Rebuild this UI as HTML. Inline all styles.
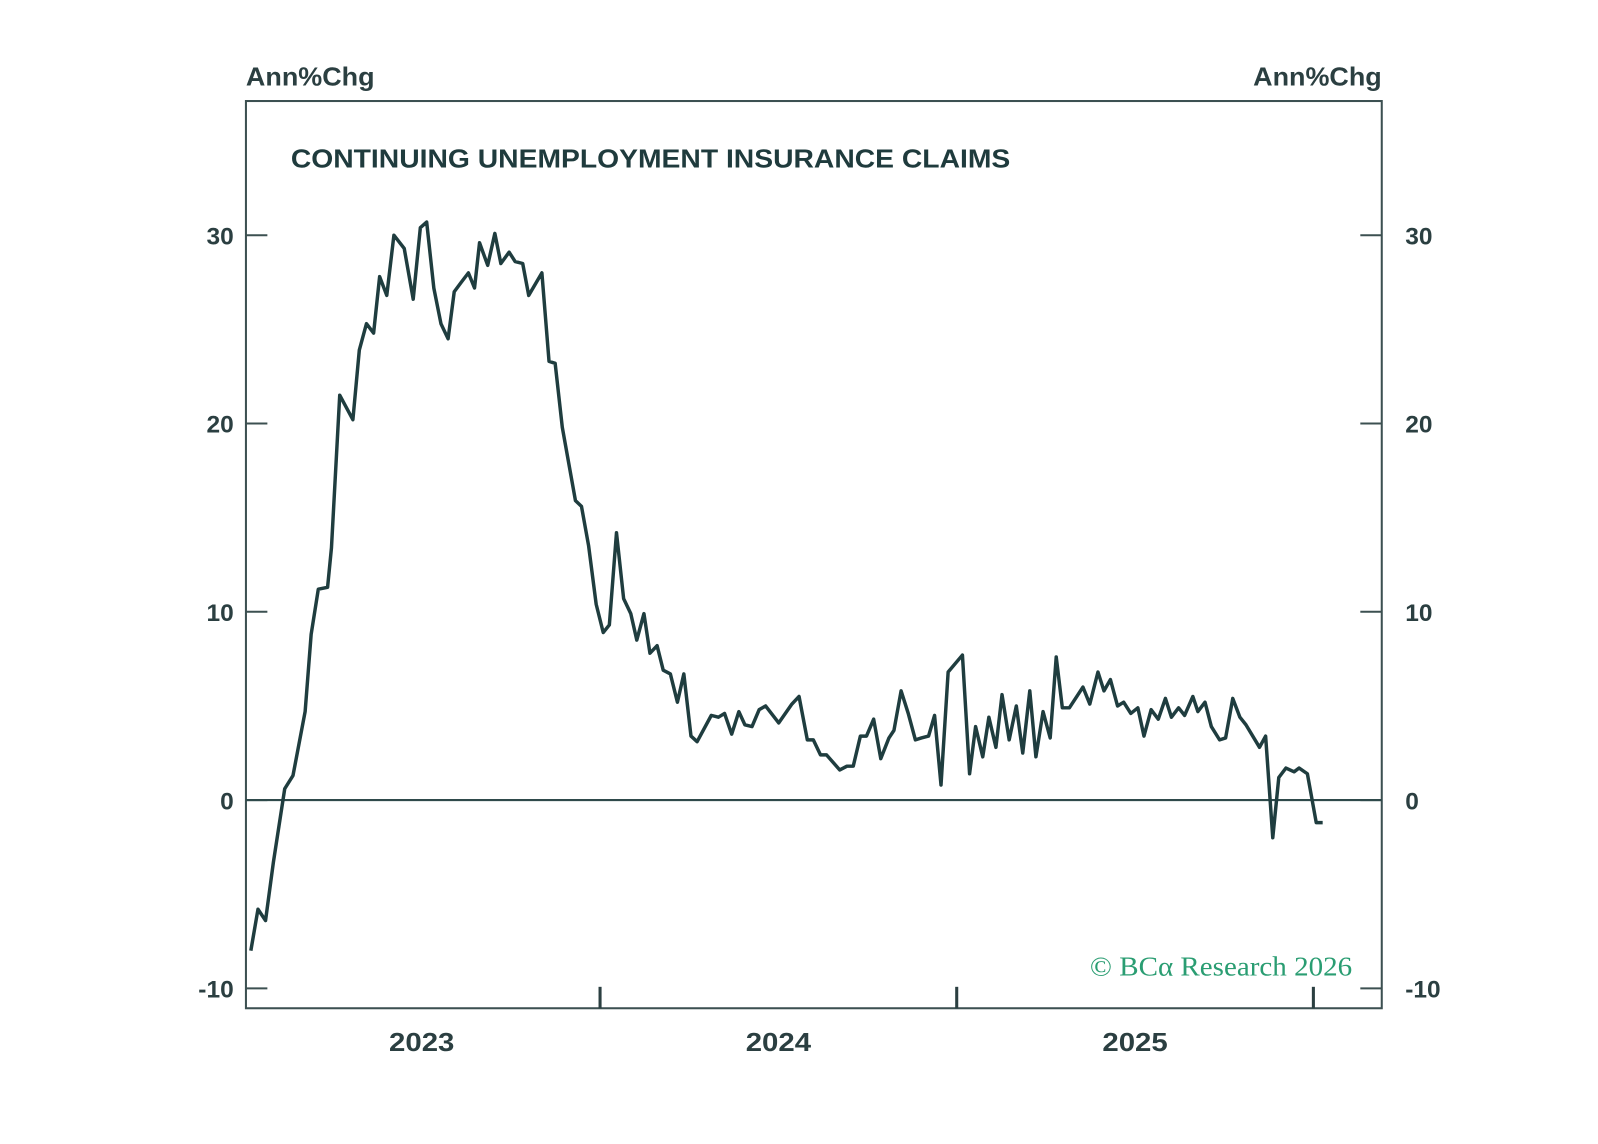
<!DOCTYPE html>
<html><head><meta charset="utf-8"><style>
html,body{margin:0;padding:0;background:#fff;}
svg{display:block;font-family:"Liberation Sans",sans-serif;}
</style></head><body>
<svg id="chart" width="1598" height="1144" viewBox="0 0 1598 1144">
<rect x="0" y="0" width="1598" height="1144" fill="#fff"/>
<g transform="scale(1.0205)">
<text x="241" y="84" font-size="25" fill="#2b3f41" font-weight="bold" textLength="126" lengthAdjust="spacingAndGlyphs">Ann%Chg</text>
<text x="1228" y="84" font-size="25" fill="#2b3f41" font-weight="bold" textLength="126" lengthAdjust="spacingAndGlyphs">Ann%Chg</text>
<rect x="241" y="99" width="1113" height="889" fill="none" stroke="#3c5051" stroke-width="2"/>
<text x="285" y="164" font-size="25" fill="#1f3b3d" font-weight="bold" textLength="705" lengthAdjust="spacingAndGlyphs">CONTINUING UNEMPLOYMENT INSURANCE CLAIMS</text>
<g id="axes"></g>
<path id="series" fill="none" stroke="#1f3d3f" stroke-width="3.4" stroke-linejoin="round"/>
<text x="1068" y="956" font-size="27" fill="#2a9d72" font-family="Liberation Serif,serif" textLength="257" lengthAdjust="spacingAndGlyphs">© BCα Research 2026</text>
</g>
</svg>
<script>
const yTicks = [-10, 0, 10, 20, 30];
const yearTicks = [2024, 2025, 2026];
const yearLabels = [2023, 2024, 2025];
const dates = [0.021,0.041,0.062,0.084,0.116,0.139,0.173,0.190,0.210,0.236,0.247,0.270,0.307,0.325,0.345,0.365,0.382,0.402,0.422,0.451,0.476,0.496,0.514,0.534,0.554,0.574,0.591,0.611,0.631,0.648,0.662,0.685,0.705,0.722,0.745,0.762,0.783,0.800,0.837,0.857,0.874,0.894,0.931,0.948,0.968,0.989,1.009,1.026,1.046,1.066,1.086,1.103,1.123,1.140,1.160,1.177,1.197,1.217,1.235,1.255,1.272,1.312,1.332,1.349,1.369,1.389,1.406,1.426,1.446,1.464,1.501,1.538,1.558,1.581,1.598,1.618,1.635,1.672,1.692,1.710,1.730,1.747,1.767,1.787,1.810,1.824,1.844,1.864,1.884,1.901,1.921,1.938,1.956,1.976,2.016,2.036,2.053,2.073,2.090,2.110,2.127,2.147,2.167,2.185,2.205,2.222,2.242,2.262,2.279,2.296,2.316,2.354,2.373,2.396,2.413,2.431,2.451,2.468,2.488,2.508,2.525,2.545,2.565,2.585,2.602,2.622,2.639,2.662,2.676,2.696,2.714,2.737,2.754,2.774,2.794,2.811,2.849,2.866,2.886,2.903,2.923,2.946,2.960,2.983,3.008,3.026];
const values = [-8.0,-5.8,-6.4,-3.3,0.6,1.3,4.7,8.8,11.2,11.3,13.4,21.5,20.2,23.9,25.3,24.8,27.8,26.8,30.0,29.3,26.6,30.4,30.7,27.2,25.3,24.5,27.0,27.5,28.0,27.2,29.6,28.4,30.1,28.5,29.1,28.6,28.5,26.8,28.0,23.3,23.2,19.8,15.9,15.6,13.5,10.4,8.9,9.3,14.2,10.7,9.9,8.5,9.9,7.8,8.2,6.9,6.7,5.2,6.7,3.4,3.1,4.5,4.4,4.6,3.5,4.7,4.0,3.9,4.8,5.0,4.1,5.1,5.5,3.2,3.2,2.4,2.4,1.6,1.8,1.8,3.4,3.4,4.3,2.2,3.3,3.7,5.8,4.6,3.2,3.3,3.4,4.5,0.8,6.8,7.7,1.4,3.9,2.3,4.4,2.8,5.6,3.2,5.0,2.5,5.8,2.3,4.7,3.3,7.6,4.9,4.9,6.0,5.1,6.8,5.8,6.4,5.0,5.2,4.6,4.9,3.4,4.8,4.3,5.4,4.4,4.9,4.5,5.5,4.7,5.2,3.9,3.2,3.3,5.4,4.4,4.0,2.8,3.4,-2.0,1.2,1.7,1.5,1.7,1.4,-1.2,-1.2];

const NS = 'http://www.w3.org/2000/svg';
const X0 = 2023, PX0 = 238.5, PXY = 349.5;
function xs(t){ return PX0 + (t - X0) * PXY; }
function ys(v){ return 784 - v * 18.45; }
const axes = document.getElementById('axes');
function mk(tag, attrs){ const e = document.createElementNS(NS, tag); for (const k in attrs) e.setAttribute(k, attrs[k]); axes.appendChild(e); return e; }

yTicks.forEach(v => {
  const y = ys(v);
  const tl = mk('line', {x1:241, x2:262, y1:y, y2:y, stroke:'#3c5051', 'stroke-width':2});
  
  
  const tr = mk('line', {x1:1333, x2:1354, y1:y, y2:y, stroke:'#3c5051', 'stroke-width':2});
  
  
  const l = mk('text', {x:229, y:y+9, 'font-size':24, 'font-weight':'bold', fill:'#2b3f41', 'text-anchor':'end'});
  l.textContent = v;
  
  
  const r = mk('text', {x:1377, y:y+9, 'font-size':24, 'font-weight':'bold', fill:'#2b3f41'});
  r.textContent = v;
  
  
});
const zl = mk('line', {x1:241, x2:1354, y1:ys(0), y2:ys(0), stroke:'#2f4a4b', 'stroke-width':2});


yearTicks.forEach(t => {
  const x = xs(t);
  const tk = mk('line', {x1:x, x2:x, y1:967, y2:988, stroke:'#2b3f41', 'stroke-width':3});
  
  
});
yearLabels.forEach(t => {
  const lb = mk('text', {x:xs(t + 0.5) - 32, y:1030, 'font-size':25, 'font-weight':'bold', fill:'#2b3f41', textLength:64, lengthAdjust:'spacingAndGlyphs'});
  lb.textContent = t;
  
  
});
let d = '';
dates.forEach((t, i) => { d += (i ? 'L' : 'M') + xs(X0 + t).toFixed(1) + ' ' + ys(values[i]).toFixed(1); });
document.getElementById('series').setAttribute('d', d);
</script>
</body></html>
